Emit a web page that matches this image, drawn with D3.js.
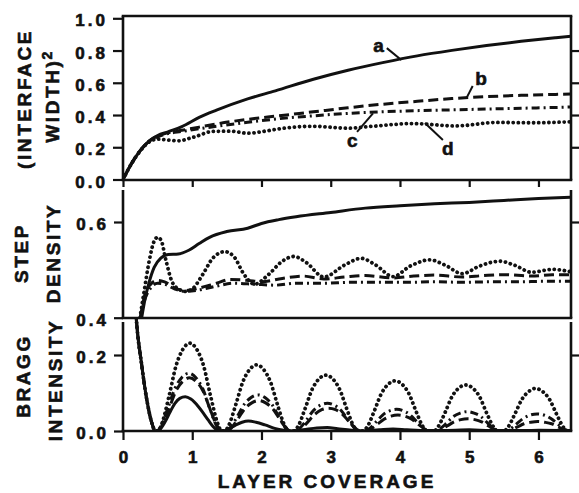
<!DOCTYPE html>
<html>
<head>
<meta charset="utf-8">
<style>
  body { margin: 0; background: #fff; }
  svg text { font-family: "Liberation Sans", Arial, sans-serif; font-weight: bold; fill: #111; stroke: #111; stroke-width: 0.6px; }
</style>
</head>
<body>
<div id="container"></div>
<script src="https://cdn.jsdelivr.net/npm/d3@7"></script>
<script>
// values, as [layer coverage, value]
const layerTicks = [0, 1, 2, 3, 4, 5, 6];
const widthTicks = [0, 0.2, 0.4, 0.6, 0.8, 1.0];
const stepTicks = [0.4, 0.6];
const braggTicks = [0, 0.2];

// (interface width)^2
const widthA = [[0,0],[0.06,0.05],[0.125,0.10],[0.25,0.18],[0.375,0.238],[0.5,0.273],[0.65,0.296],[0.85,0.328],[1.1,0.385],[1.35,0.43],[1.8,0.50],[2.2,0.55],[2.75,0.622],[3.25,0.678],[3.75,0.725],[4.25,0.767],[4.75,0.801],[5.25,0.831],[5.75,0.857],[6.25,0.879],[6.47,0.888]];
const widthB = [[0,0],[0.125,0.10],[0.25,0.18],[0.375,0.238],[0.5,0.27],[0.65,0.29],[0.85,0.305],[1.1,0.325],[1.35,0.345],[1.8,0.373],[2.25,0.395],[2.75,0.42],[3.25,0.445],[3.75,0.467],[4.25,0.485],[4.75,0.502],[5.25,0.514],[5.75,0.522],[6.25,0.528],[6.47,0.53]];
const widthC = [[0,0],[0.125,0.10],[0.25,0.18],[0.375,0.236],[0.5,0.265],[0.65,0.285],[0.85,0.298],[1.1,0.315],[1.35,0.33],[1.8,0.355],[2.25,0.377],[2.75,0.395],[3.25,0.41],[3.75,0.42],[4.25,0.427],[4.75,0.432],[5.25,0.437],[5.75,0.442],[6.25,0.447],[6.47,0.45]];
const widthD = [[0,0],[0.125,0.10],[0.25,0.178],[0.375,0.232],[0.5,0.25],[0.65,0.245],[0.8,0.24],[1.0,0.26],[1.3,0.298],[1.55,0.30],[1.8,0.287],[2.05,0.30],[2.3,0.317],[2.75,0.33],[3.25,0.318],[3.6,0.33],[4.2,0.347],[4.8,0.332],[5.4,0.354],[5.9,0.352],[6.47,0.358]];

// step density
const stepA = [[0.27,0.40],[0.32,0.44],[0.37,0.47],[0.45,0.505],[0.55,0.525],[0.65,0.532],[0.8,0.533],[0.95,0.541],[1.1,0.555],[1.25,0.568],[1.5,0.58],[1.8,0.587],[2.0,0.597],[2.25,0.605],[2.5,0.611],[3.0,0.62],[3.5,0.629],[4.0,0.634],[4.5,0.638],[5.0,0.641],[5.5,0.645],[6.0,0.649],[6.47,0.652]];
const stepB = [[0.25,0.40],[0.32,0.45],[0.4,0.47],[0.5,0.478],[0.6,0.475],[0.75,0.462],[0.9,0.457],[1.1,0.462],[1.35,0.472],[1.55,0.48],[1.8,0.478],[2.0,0.475],[2.3,0.482],[2.6,0.487],[2.9,0.481],[3.2,0.485],[3.5,0.488],[3.9,0.483],[4.2,0.487],[4.5,0.489],[4.9,0.485],[5.2,0.488],[5.5,0.49],[5.9,0.487],[6.2,0.49],[6.47,0.49]];
const stepC = [[0.25,0.40],[0.32,0.44],[0.4,0.462],[0.5,0.472],[0.6,0.47],[0.75,0.46],[0.9,0.455],[1.1,0.458],[1.35,0.466],[1.6,0.472],[1.9,0.47],[2.2,0.468],[2.5,0.472],[2.9,0.472],[3.3,0.474],[3.7,0.474],[4.1,0.474],[4.5,0.475],[4.9,0.474],[5.3,0.475],[5.7,0.475],[6.1,0.476],[6.47,0.476]];
const stepD = [[0.245,0.40],[0.3,0.45],[0.38,0.52],[0.45,0.56],[0.5,0.568],[0.55,0.562],[0.62,0.52],[0.7,0.478],[0.8,0.46],[0.9,0.455],[1.0,0.46],[1.15,0.49],[1.3,0.525],[1.47,0.538],[1.6,0.528],[1.75,0.49],[1.9,0.47],[2.1,0.49],[2.3,0.518],[2.47,0.528],[2.65,0.515],[2.9,0.485],[3.2,0.51],[3.44,0.524],[3.65,0.51],[3.9,0.486],[4.15,0.508],[4.43,0.521],[4.65,0.51],[4.9,0.492],[5.15,0.508],[5.44,0.518],[5.65,0.51],[5.9,0.495],[6.2,0.501],[6.47,0.496]];

// bragg intensity
const braggA = [[0.15,0.42],[0.19,0.30],[0.27,0.174],[0.34,0.086],[0.41,0.025],[0.47,0],[0.53,0.004],[0.61,0.025],[0.68,0.05],[0.75,0.073],[0.82,0.086],[0.9,0.09],[0.98,0.084],[1.09,0.064],[1.16,0.047],[1.23,0.029],[1.3,0.012],[1.375,0.001],[1.45,0],[1.52,0.005],[1.62,0.015],[1.72,0.023],[1.81,0.026],[1.92,0.023],[2.05,0.016],[2.19,0.007],[2.32,0.002],[2.45,0],[2.6,0.003],[2.8,0.008],[2.95,0.009],[3.1,0.006],[3.3,0.002],[3.45,0],[3.7,0.003],[3.9,0.005],[4.1,0.003],[4.4,0.001],[4.8,0.002],[5.0,0.003],[5.3,0.001],[5.8,0.001],[6.0,0.002],[6.47,0.001]];
const braggB = [[0.15,0.42],[0.19,0.30],[0.27,0.174],[0.34,0.086],[0.41,0.025],[0.47,0],
  [0.50,0],[0.56,0.013],[0.66,0.056],[0.76,0.104],[0.86,0.130],[0.96,0.140],[1.06,0.130],[1.16,0.104],[1.26,0.056],[1.36,0.013],[1.43,0],
  [1.50,0],[1.56,0.007],[1.66,0.032],[1.76,0.059],[1.86,0.074],[1.96,0.080],[2.06,0.074],[2.16,0.059],[2.26,0.032],[2.36,0.007],[2.42,0],
  [2.51,0],[2.57,0.005],[2.67,0.024],[2.77,0.044],[2.87,0.056],[2.97,0.060],[3.07,0.056],[3.17,0.044],[3.27,0.024],[3.37,0.005],[3.43,0],
  [3.51,0],[3.57,0.004],[3.67,0.017],[3.77,0.031],[3.87,0.039],[3.97,0.042],[4.07,0.039],[4.17,0.031],[4.27,0.017],[4.37,0.004],[4.43,0],
  [4.52,0],[4.58,0.003],[4.68,0.013],[4.78,0.024],[4.88,0.030],[4.98,0.032],[5.08,0.030],[5.18,0.024],[5.28,0.013],[5.38,0.003],[5.44,0],
  [5.53,0],[5.59,0.002],[5.69,0.010],[5.79,0.019],[5.89,0.023],[5.99,0.025],[6.09,0.023],[6.19,0.019],[6.29,0.010],[6.39,0.002],[6.45,0],[6.47,0]];
const braggC = [[0.15,0.42],[0.19,0.30],[0.27,0.174],[0.34,0.086],[0.41,0.025],[0.47,0],
  [0.49,0],[0.55,0.014],[0.65,0.061],[0.75,0.112],[0.85,0.141],[0.95,0.152],[1.05,0.141],[1.15,0.112],[1.25,0.061],[1.35,0.014],[1.42,0],
  [1.49,0],[1.55,0.009],[1.65,0.038],[1.75,0.070],[1.85,0.088],[1.95,0.095],[2.05,0.088],[2.15,0.070],[2.25,0.038],[2.35,0.009],[2.41,0],
  [2.49,0],[2.55,0.007],[2.65,0.029],[2.75,0.054],[2.85,0.068],[2.95,0.073],[3.05,0.068],[3.15,0.054],[3.25,0.029],[3.35,0.007],[3.41,0],
  [3.49,0],[3.55,0.005],[3.65,0.023],[3.75,0.042],[3.85,0.053],[3.95,0.057],[4.05,0.053],[4.15,0.042],[4.25,0.023],[4.35,0.005],[4.41,0],
  [4.51,0],[4.57,0.005],[4.67,0.020],[4.77,0.038],[4.87,0.047],[4.97,0.051],[5.07,0.047],[5.17,0.038],[5.27,0.020],[5.37,0.005],[5.43,0],
  [5.52,0],[5.58,0.004],[5.68,0.018],[5.78,0.033],[5.88,0.042],[5.98,0.045],[6.08,0.042],[6.18,0.033],[6.28,0.018],[6.38,0.004],[6.44,0],[6.47,0]];
const braggD = [[0.15,0.42],[0.19,0.30],[0.27,0.174],[0.34,0.086],[0.41,0.025],[0.47,0],
  [0.505,0],[0.565,0.021],[0.665,0.092],[0.765,0.171],[0.865,0.215],[0.965,0.231],[1.065,0.215],[1.165,0.171],[1.265,0.092],[1.365,0.021],[1.425,0],
  [1.47,0],[1.53,0.016],[1.63,0.070],[1.73,0.129],[1.83,0.162],[1.93,0.174],[2.03,0.162],[2.13,0.129],[2.23,0.070],[2.33,0.016],[2.39,0],
  [2.47,0],[2.53,0.013],[2.63,0.059],[2.73,0.109],[2.83,0.137],[2.93,0.147],[3.03,0.137],[3.13,0.109],[3.23,0.059],[3.33,0.013],[3.39,0],
  [3.47,0],[3.53,0.012],[3.63,0.053],[3.73,0.098],[3.83,0.123],[3.93,0.132],[4.03,0.123],[4.13,0.098],[4.23,0.053],[4.33,0.012],[4.39,0],
  [4.49,0],[4.55,0.011],[4.65,0.048],[4.75,0.090],[4.85,0.113],[4.95,0.121],[5.05,0.113],[5.15,0.090],[5.25,0.048],[5.35,0.011],[5.41,0],
  [5.50,0],[5.56,0.010],[5.66,0.045],[5.76,0.083],[5.86,0.104],[5.96,0.112],[6.06,0.104],[6.16,0.083],[6.26,0.045],[6.36,0.010],[6.42,0],[6.47,0]];

// curve labels in the top panel: [label, text pos, leader start, leader end]
const curveLabels = [
  ["a", [3.69, 0.835], [3.81, 0.815], [4.02, 0.741]],
  ["b", [5.17, 0.63], [5.05, 0.58], [4.96, 0.505]],
  ["c", [3.31, 0.245], [3.38, 0.295], [3.61, 0.41]],
  ["d", [4.69, 0.195], [4.62, 0.245], [4.36, 0.35]]
];

const W = 579, H = 493;
const svg = d3.select("#container").append("svg")
  .attr("width", W).attr("height", H);

const x = d3.scaleLinear().domain([0, 6.47]).range([123, 571]);

const styles = {
  a: { dash: null, width: 3 },
  b: { dash: "10,5", width: 3 },
  c: { dash: "8,4,2,4", width: 3 },
  d: { dash: "0.1,5", width: 3.8 }
};

const panels = [
  { id: "top", y: d3.scaleLinear().domain([0, 1]).range([179.5, 18.3]), top: 16, bottom: 180, frameTop: true,
    ticks: widthTicks, rTicks: [0.2, 0.4, 0.6, 0.8], tickLen: 10, xTickLen: 7,
    series: { a: widthA, b: widthB, c: widthC, d: widthD } },
  { id: "mid", y: d3.scaleLinear().domain([0.4, 0.6]).range([317.7, 222]), top: 190, bottom: 318, frameTop: false,
    ticks: stepTicks, rTicks: [0.6], tickLen: 9, xTickLen: 0,
    series: { a: stepA, b: stepB, c: stepC, d: stepD } },
  { id: "bot", y: d3.scaleLinear().domain([0, 0.2]).range([431, 355]), top: 322, bottom: 431, frameTop: false,
    ticks: braggTicks, rTicks: [0.2], tickLen: 9, xTickLen: 9, clipTop: 317,
    series: { a: braggA, b: braggB, c: braggC, d: braggD } }
];

const defs = svg.append("defs");
const fmt = d3.format(".1f");

panels.forEach(p => {
  const g = svg.append("g").attr("class", "panel-" + p.id);
  const y = p.y;
  const [x0, x1] = x.range();

  defs.append("clipPath").attr("id", "clip-" + p.id)
    .append("rect")
    .attr("x", x0).attr("y", p.clipTop || p.top)
    .attr("width", x1 - x0).attr("height", p.bottom - (p.clipTop || p.top));

  // curves
  const line = d3.line().x(d => x(d[0])).y(d => y(d[1])).curve(d3.curveMonotoneX);
  const cg = g.append("g").attr("clip-path", `url(#clip-${p.id})`);
  Object.entries(p.series).forEach(([k, data]) => {
    cg.append("path")
      .attr("d", line(data))
      .attr("fill", "none")
      .attr("stroke", "#111")
      .attr("stroke-width", styles[k].width)
      .attr("stroke-dasharray", styles[k].dash)
      .attr("stroke-linecap", k === "d" ? "round" : "butt")
      .attr("stroke-linejoin", "round");
  });

  // frame
  const frame = g.append("g").attr("stroke", "#111").attr("stroke-width", 2.6).attr("fill", "none");
  frame.append("line").attr("x1", x0).attr("x2", x0).attr("y1", p.top).attr("y2", p.bottom);
  frame.append("line").attr("x1", x1).attr("x2", x1).attr("y1", p.top).attr("y2", p.bottom);
  frame.append("line").attr("x1", x0 - 1.3).attr("x2", x1 + 1.3).attr("y1", p.bottom).attr("y2", p.bottom);
  if (p.frameTop) frame.append("line").attr("x1", x0 - 1.3).attr("x2", x1 + 1.3).attr("y1", p.top).attr("y2", p.top);

  // left axis
  const la = g.append("g").attr("transform", `translate(${x0},0)`)
    .call(d3.axisLeft(y).tickValues(p.ticks).tickSize(p.tickLen).tickPadding(5).tickFormat(fmt));
  la.select(".domain").remove();
  la.selectAll("line").attr("stroke", "#111").attr("stroke-width", 2.2);
  la.selectAll("text").attr("font-size", 17).attr("letter-spacing", 3)
    .attr("fill", "#111").attr("dy", "0.45em");

  // right axis (ticks only)
  const ra = g.append("g").attr("transform", `translate(${x1},0)`)
    .call(d3.axisRight(y).tickValues(p.rTicks).tickSize(9).tickFormat(""));
  ra.select(".domain").remove();
  ra.selectAll("line").attr("stroke", "#111").attr("stroke-width", 2.2);

  // bottom ticks
  if (p.xTickLen) {
    const ba = g.append("g").attr("transform", `translate(0,${p.bottom})`)
      .call(d3.axisBottom(x).tickValues(layerTicks).tickSize(p.xTickLen).tickFormat(p.id === "bot" ? d3.format("d") : ""));
    ba.select(".domain").remove();
    ba.selectAll("line").attr("stroke", "#111").attr("stroke-width", 2.2);
    ba.selectAll("text").attr("font-size", 17).attr("fill", "#111").attr("dy", "1.15em");
  }
});

// curve labels
const yTop = panels[0].y;
curveLabels.forEach(([t, pos, s, e]) => {
  svg.append("text").attr("x", x(pos[0])).attr("y", yTop(pos[1]))
    .attr("text-anchor", "middle").attr("dy", "0.35em")
    .attr("font-size", 19).text(t);
  svg.append("line")
    .attr("x1", x(s[0])).attr("y1", yTop(s[1]))
    .attr("x2", x(e[0])).attr("y2", yTop(e[1]))
    .attr("stroke", "#111").attr("stroke-width", 2);
});

// axis titles
function vTitle(cx, cy, txt, sup) {
  const t = svg.append("text")
    .attr("transform", `translate(${cx},${cy}) rotate(-90)`)
    .attr("text-anchor", "middle").attr("dy", "0.36em")
    .attr("font-size", 19).attr("letter-spacing", 2.6)
    .text(txt);
  if (sup) t.append("tspan").attr("font-size", 14).attr("dy", -7).attr("dx", -1).text(sup);
}
vTitle(24, 99, "(INTERFACE");
vTitle(52, 96, "WIDTH)", "2");
vTitle(21, 253, "STEP");
vTitle(53, 253, "DENSITY");
vTitle(23, 376, "BRAGG");
vTitle(55, 380, "INTENSITY");

svg.append("text").attr("x", 327).attr("y", 488)
  .attr("text-anchor", "middle").attr("font-size", 19).attr("letter-spacing", 3)
  .text("LAYER COVERAGE");
</script>
</body>
</html>
